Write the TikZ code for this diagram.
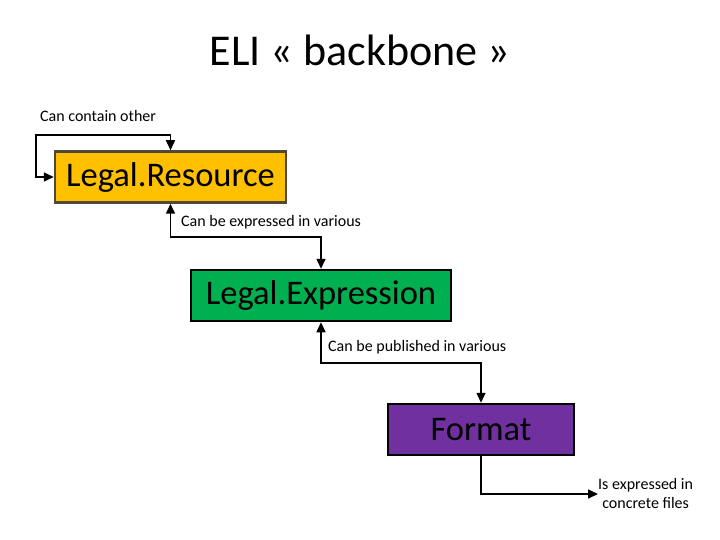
\documentclass[tikz,border=0pt]{standalone}
\usepackage{fontspec}
\setmainfont{Carlito}
\usetikzlibrary{positioning}
\usetikzlibrary{calc}
\usetikzlibrary{arrows.meta}
\definecolor{orange}{RGB}{255,192,0}
\definecolor{green}{RGB}{0,176,80}
\definecolor{purple}{RGB}{112,48,160}
\definecolor{darkframe}{RGB}{80,72,56}
\tikzset{
  cls/.style={draw, rectangle, line width=2.5pt, minimum height=51pt, inner sep=0pt, text centered, font=\fontsize{34.5}{38}\selectfont},
  lbl/.style={inner sep=0pt, font=\fontsize{16}{19}\selectfont},
  rel/.style={line width=1.6pt, -{Triangle[length=10pt,width=9pt]}},
  birel/.style={line width=1.6pt, {Triangle[length=10pt,width=9pt]}-{Triangle[length=10pt,width=9pt]}}
}
\begin{document}
\begin{tikzpicture}[x=1pt,y=-1pt]
        \useasboundingbox (0,0) rectangle (720,540);
        % nodes %
        \node[font=\fontsize{44}{48}\selectfont, anchor=base] (title) at (360,66) {ELI « backbone »};
        \node[cls, fill=orange, draw=darkframe, minimum width=231pt] (res) at (170.5,177) {Legal.Resource};
        \node[cls, fill=green, minimum width=260pt] (expr) at (321,295.5) {Legal.Expression};
        \node[cls, fill=purple, minimum width=186pt] (fmt) at (481,429.5) {Format};
        \node[lbl, align=center, anchor=west] (files) at (598,494) {Is expressed in\\concrete files};

        % edges %
        \draw[birel] (res.west) -- ++(-18,0) |- ($(res.north)+(0,-15)$) -- (res.north);
        \node[lbl, anchor=west] (containlbl) at (40,116) {Can contain other};
        \draw[birel] (res.south) -- ++(0,33) -| (expr.north);
        \node[lbl, anchor=west] (exprlbl) at (181,222) {Can be expressed in various};
        \draw[birel] (expr.south) -- ++(0,41) -| (fmt.north);
        \node[lbl, anchor=west] (publbl) at (328,347) {Can be published in various};
        \draw[rel] (fmt.south) |- (files.west);
      \end{tikzpicture}
\end{document}
